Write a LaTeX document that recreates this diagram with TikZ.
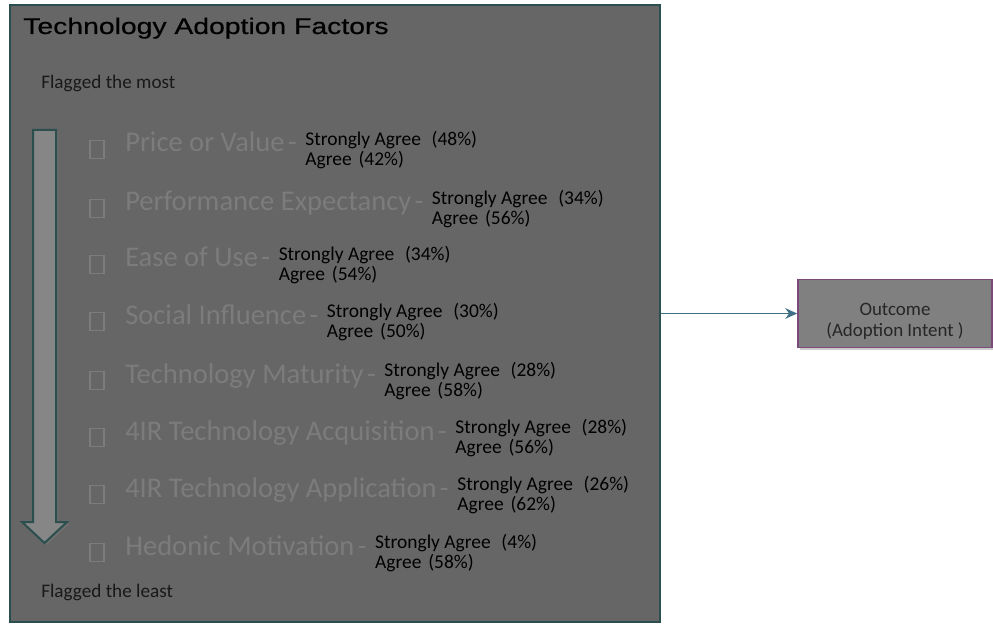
\documentclass[tikz,border=0pt]{standalone}
\usepackage{fontspec}
\setmainfont{Carlito}
\newfontfamily\titlefont[FakeStretch=1.25, FakeBold=0.5]{Liberation Sans}
\usetikzlibrary{positioning,shadows,arrows.meta}
\definecolor{panelgray}{HTML}{666666}
\definecolor{panelline}{HTML}{2B4E4E}
\definecolor{shaftgray}{HTML}{868686}
\definecolor{factorgray}{HTML}{7C7C7C}
\definecolor{outfill}{HTML}{808080}
\definecolor{outline}{HTML}{7B4A7B}
\definecolor{flowblue}{HTML}{3F6F87}
\tikzset{
  panel/.style={draw=panelline, line width=1.5pt, fill=panelgray, minimum width=487pt, minimum height=462.75pt,
    drop shadow={opacity=0.35, shadow xshift=-1pt, shadow yshift=-1pt}},
  factor/.style={inner sep=0pt, anchor=base west, text=factorgray, font=\fontsize{21.4}{24}\selectfont},
  agree/.style={inner sep=0pt, align=left, text=black, font=\fontsize{14.6}{15}\selectfont},
  bullet/.style={draw=factorgray, line width=0.8pt, minimum width=10.5pt, minimum height=13pt, inner sep=0pt},
  note/.style={inner sep=0pt, anchor=base west, text=black!90, font=\fontsize{14.4}{16}\selectfont},
  outcome/.style={draw=outline, line width=1.2pt, fill=outfill, minimum width=145.5pt, minimum height=51pt,
    align=center, text=black!85, font=\fontsize{14.2}{15.75}\selectfont,
    drop shadow={opacity=0.4, shadow xshift=1.5pt, shadow yshift=-1.5pt}},
  flow/.style={-{Stealth[length=9pt, width=8pt]}, draw=flowblue, line width=1.1pt}
}
\newcommand{\dsh}{\hspace{0.12em}-}
\begin{document}
\begin{tikzpicture}[x=0.75pt, y=-0.75pt]
\useasboundingbox (0,0) rectangle (993,624);
\node[panel] (panel) at (335,313.5) {};  % factors panel
\node[inner sep=0pt, anchor=base west, font=\titlefont\fontsize{17}{20}\selectfont] (title) at (23,34) {Technology Adoption Factors};
\node[note] (most) at (41,89) {Flagged the most};
\node[note] (least) at (41,597) {Flagged the least};
% ranking arrow
\draw[draw=panelline, line width=1.5pt, fill=shaftgray, drop shadow={opacity=0.4, shadow xshift=1.5pt, shadow yshift=-1.5pt}]
  (33,130) -- (56,130) -- (56,522) -- (67,522) -- (44.5,543) -- (22,522) -- (33,522) -- cycle;
% factors
\node[factor] (f1) at (125,152) {Price or Value\dsh};
\node[factor] (f2) at (125,211) {Performance Expectancy\dsh};
\node[factor] (f3) at (125,267) {Ease of Use\dsh};
\node[factor] (f4) at (125,324) {Social Influence\dsh};
\node[factor] (f5) at (125,383) {Technology Maturity\dsh};
\node[factor] (f6) at (125,440) {4IR Technology Acquisition\dsh};
\node[factor] (f7) at (125,497) {4IR Technology Application\dsh};
\node[factor] (f8) at (125,555) {Hedonic Motivation\dsh};
% bullets
\node[bullet] (b1) at (97,149.5) {};
\node[bullet] (b2) at (97,208.5) {};
\node[bullet] (b3) at (97,264.5) {};
\node[bullet] (b4) at (97,321.5) {};
\node[bullet] (b5) at (97,380.5) {};
\node[bullet] (b6) at (97,437.5) {};
\node[bullet] (b7) at (97,494.5) {};
\node[bullet] (b8) at (97,552.5) {};
% agreement shares
\node[agree, right=6pt of f1.base east, yshift=1.5pt] (a1) {Strongly Agree\hspace{0.55em}(48\%)\\Agree\hspace{0.35em}(42\%)};
\node[agree, right=6pt of f2.base east, yshift=1.5pt] (a2) {Strongly Agree\hspace{0.55em}(34\%)\\Agree\hspace{0.35em}(56\%)};
\node[agree, right=6pt of f3.base east, yshift=1.5pt] (a3) {Strongly Agree\hspace{0.55em}(34\%)\\Agree\hspace{0.35em}(54\%)};
\node[agree, right=6pt of f4.base east, yshift=1.5pt] (a4) {Strongly Agree\hspace{0.55em}(30\%)\\Agree\hspace{0.35em}(50\%)};
\node[agree, right=6pt of f5.base east, yshift=1.5pt] (a5) {Strongly Agree\hspace{0.55em}(28\%)\\Agree\hspace{0.35em}(58\%)};
\node[agree, right=6pt of f6.base east, yshift=1.5pt] (a6) {Strongly Agree\hspace{0.55em}(28\%)\\Agree\hspace{0.35em}(56\%)};
\node[agree, right=6pt of f7.base east, yshift=1.5pt] (a7) {Strongly Agree\hspace{0.55em}(26\%)\\Agree\hspace{0.35em}(62\%)};
\node[agree, right=6pt of f8.base east, yshift=1.5pt] (a8) {Strongly Agree\hspace{0.55em}(4\%)\\Agree\hspace{0.35em}(58\%)};
% outcome
\node[outcome] (out) at (895,313.5) {\rule{0pt}{21pt}Outcome\\(Adoption Intent )};
\draw[flow] (panel.east) -- (out.west);
\end{tikzpicture}
\end{document}
